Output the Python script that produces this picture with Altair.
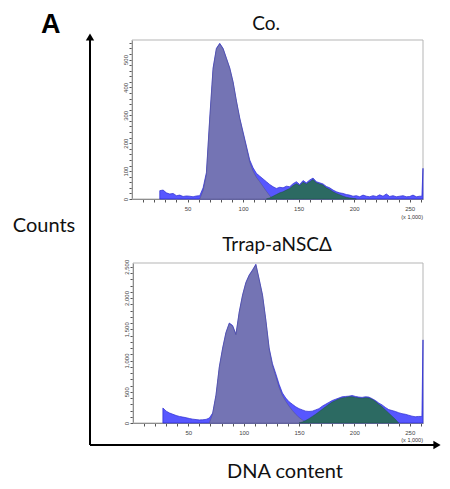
import altair as alt
import pandas as pd

# ---------------- Co. panel (DNA content x 1,000 vs counts) ----------------
co_x = [25, 28, 31, 34, 37, 40, 43, 46, 49, 52, 55, 58, 61, 64, 67, 70, 73, 76, 79, 82,
        85, 88, 91, 94, 97, 100, 103, 106, 109, 112, 115, 118, 121, 124, 127, 130, 133, 136, 139, 142,
        145, 148, 151, 154, 157, 160, 163, 166, 169, 172, 175, 178, 181, 184, 187, 190, 193, 196, 199, 202,
        205, 208, 211, 214, 217, 220, 223, 226, 229, 232, 235, 238, 241, 244, 247, 250, 253, 256, 259, 261, 262]
co_total = [30, 32, 22, 18, 20, 12, 14, 9, 11, 10, 8, 11, 12, 40, 95, 290, 470, 540, 558, 540,
            505, 470, 420, 352, 290, 240, 190, 140, 112, 92, 82, 72, 62, 52, 44, 38, 42, 40, 46, 44,
            55, 62, 52, 66, 58, 68, 75, 62, 58, 54, 45, 40, 32, 26, 22, 20, 16, 14, 10, 12,
            8, 14, 10, 8, 12, 9, 15, 10, 18, 9, 12, 8, 10, 12, 8, 9, 14, 8, 10, 10, 110]
co_g1_x = [61, 64, 67, 70, 73, 76, 79, 82, 85, 88, 91, 94, 97, 100, 103, 106, 109, 112, 115, 118, 121, 124, 127]
co_g1 = [0, 30, 88, 285, 465, 538, 556, 538, 503, 468, 418, 350, 288, 236, 185, 132, 100, 78, 62, 45, 28, 12, 0]
co_g2_x = [121, 124, 127, 130, 133, 136, 139, 142, 145, 148, 151, 154, 157, 160, 163, 166, 169, 172, 175, 178,
           181, 184, 187, 190, 193, 196, 199, 202]
co_g2 = [0, 4, 10, 16, 22, 26, 32, 38, 48, 55, 48, 60, 54, 62, 70, 58, 54, 50, 40, 34,
         26, 20, 15, 10, 6, 4, 2, 0]

# ---------------- Trrap-aNSCΔ panel ----------------
tr_x = [27, 30, 33, 36, 39, 42, 45, 48, 51, 54, 57, 60, 63, 66, 69, 72, 75, 78, 81, 84,
        87, 90, 93, 96, 99, 102, 105, 108, 111, 114, 117, 120, 123, 126, 129, 132, 135, 138, 141, 144,
        147, 150, 153, 156, 159, 162, 165, 168, 171, 174, 177, 180, 183, 186, 189, 192, 195, 198, 201, 204,
        207, 210, 213, 216, 219, 222, 225, 228, 231, 234, 237, 240, 243, 246, 249, 252, 255, 258, 261, 262]
tr_total = [240, 190, 160, 140, 120, 105, 95, 85, 72, 62, 55, 50, 52, 58, 80, 160, 450, 900, 1200, 1450,
            1600, 1560, 1420, 1780, 2050, 2250, 2370, 2450, 2540, 2300, 2050, 1650, 1200, 950, 790, 620, 480, 400, 340, 300,
            260, 230, 210, 190, 185, 190, 210, 230, 270, 300, 330, 360, 380, 400, 420, 425, 430, 440, 425, 415,
            410, 420, 415, 390, 360, 320, 290, 250, 215, 200, 185, 165, 150, 140, 125, 110, 100, 105, 105, 1330]
tr_g1_x = [69, 72, 75, 78, 81, 84, 87, 90, 93, 96, 99, 102, 105, 108, 111, 114, 117, 120, 123, 126,
           129, 132, 135, 138, 141, 144, 147, 150, 153, 156, 159]
tr_g1 = [0, 150, 440, 890, 1190, 1440, 1590, 1550, 1410, 1770, 2040, 2240, 2360, 2440, 2530, 2290, 2040, 1640, 1180, 920,
         750, 570, 440, 350, 270, 200, 140, 90, 50, 20, 0]
tr_g2_x = [150, 153, 156, 159, 162, 165, 168, 171, 174, 177, 180, 183, 186, 189, 192, 195, 198, 201, 204, 207,
           210, 213, 216, 219, 222, 225, 228, 231, 234, 237, 240]
tr_g2 = [0, 15, 40, 70, 105, 140, 180, 220, 260, 300, 335, 360, 385, 400, 410, 420, 420, 410, 400, 395,
         405, 400, 380, 345, 300, 260, 210, 160, 110, 60, 0]

x_ticks = [10, 20, 30, 40, 50, 60, 70, 80, 90, 100, 110, 120, 130, 140, 150, 160, 170, 180, 190, 200,
           210, 220, 230, 240, 250, 260]
co_y_ticks = [0, 20, 40, 60, 80, 100, 120, 140, 160, 180, 200, 220, 240, 260, 280, 300, 320, 340, 360, 380,
              400, 420, 440, 460, 480, 500, 520, 540, 560]
tr_y_ticks = [0, 100, 200, 300, 400, 500, 600, 700, 800, 900, 1000, 1100, 1200, 1300, 1400, 1500, 1600, 1700,
              1800, 1900, 2000, 2100, 2200, 2300, 2400, 2500]

BLUE = "#5757ff"
BLUE_EDGE = "#2a2ad0"
PURPLE = "#7474b4"
PURPLE_EDGE = "#50508a"
GREEN = "#2c6a62"
GREEN_EDGE = "#1f4f48"
TICKFONT = "Liberation Sans"
FONT = "Lato"

W, H = 434, 473


def panel(tx, ty, g1x, g1y, g2x, g2y, ymax, xrange, yrange, yticks, ylabmod, yfmt, xoff, yoff):
    xs = alt.Scale(domain=[0, 262], range=xrange, nice=False, zero=False)
    ys = alt.Scale(domain=[0, ymax], range=yrange, nice=False)
    xaxis = alt.Axis(orient="bottom", offset=xoff, values=x_ticks, tickCount=200, format="d",
                     labelExpr="datum.value % 50 == 0 ? datum.label : ''",
                     tickSize=3, tickColor="#555", domainColor="#666", domainWidth=1,
                     labelFontSize=6, labelColor="#444", labelFont=TICKFONT, labelPadding=3,
                     labelOverlap=False, labelFlush=False, grid=False, title="")
    yaxis = alt.Axis(orient="left", offset=yoff, values=yticks, tickCount=200, format=yfmt,
                     labelExpr="datum.value % " + str(ylabmod) + " == 0 ? datum.label : ''",
                     labelAngle=270, labelAlign="center", labelBaseline="bottom",
                     tickSize=3, tickColor="#555", domainColor="#666", domainWidth=1,
                     labelFontSize=6, labelColor="#444", labelFont=TICKFONT, labelPadding=1,
                     labelOverlap=False, labelFlush=False, grid=False, title="")

    tot = pd.DataFrame({"x": tx, "y": ty})
    g1 = pd.DataFrame({"x": g1x, "y": g1y})
    g2 = pd.DataFrame({"x": g2x, "y": g2y})
    frame = pd.DataFrame({"x0": [0], "x1": [262], "y0": [0], "y1": [ymax]})

    fr = alt.Chart(frame).mark_rect(fillOpacity=0, stroke="#b5b5b5", strokeWidth=1).encode(
        x=alt.X("x0:Q", scale=xs, axis=xaxis),
        x2="x1:Q",
        y=alt.Y("y0:Q", scale=ys, axis=yaxis),
        y2="y1:Q",
    )
    a_tot = alt.Chart(tot).mark_area(color=BLUE, stroke=BLUE_EDGE, strokeWidth=0.7, interpolate="linear").encode(
        x=alt.X("x:Q", scale=xs), y=alt.Y("y:Q", scale=ys))
    a_g1 = alt.Chart(g1).mark_area(color=PURPLE, stroke=PURPLE_EDGE, strokeWidth=0.5, interpolate="linear").encode(
        x=alt.X("x:Q", scale=xs), y=alt.Y("y:Q", scale=ys))
    a_g2 = alt.Chart(g2).mark_area(color=GREEN, stroke=GREEN_EDGE, strokeWidth=0.5, interpolate="linear").encode(
        x=alt.X("x:Q", scale=xs), y=alt.Y("y:Q", scale=ys))
    return alt.layer(fr, a_tot, a_g1, a_g2)


top = panel(co_x, co_total, co_g1_x, co_g1, co_g2_x, co_g2, 570, [124, 415], [191, 32],
            co_y_ticks, 100, "d", 191 - H, -124)
bottom = panel(tr_x, tr_total, tr_g1_x, tr_g1, tr_g2_x, tr_g2, 2560, [125, 415], [415, 255],
               tr_y_ticks, 500, ",d", 415 - H, -125)

one = pd.DataFrame({"k": [0]})


def label(text, x, y, size, font=FONT, weight="normal", align="center", color="#111"):
    return alt.Chart(one).mark_text(text=text, font=font, fontSize=size, fontWeight=weight,
                                    align=align, baseline="alphabetic", color=color).encode(
        x=alt.value(x), y=alt.value(y))


texts = [
    label("A", 33, 25, 27, font="Liberation Sans", weight="bold", align="left", color="#000"),
    label("Co.", 258, 22, 19),
    label("Trrap-aNSCΔ", 269, 243, 19),
    label("Counts", 36, 224, 20),
    label("DNA content", 277, 470, 20),
    label("(x 1,000)", 415, 211, 5.5, font=TICKFONT, align="right", color="#333"),
    label("(x 1,000)", 415, 434, 5.5, font=TICKFONT, align="right", color="#333"),
]

arrows = [
    alt.Chart(one).mark_rule(color="#000", strokeWidth=2).encode(
        x=alt.value(82), y=alt.value(30), y2=alt.value(437)),
    alt.Chart(one).mark_rule(color="#000", strokeWidth=2).encode(
        x=alt.value(82), x2=alt.value(427), y=alt.value(437)),
    alt.Chart(one).mark_point(shape="triangle-up", filled=True, color="#000", opacity=1, size=70).encode(
        x=alt.value(82), y=alt.value(29)),
    alt.Chart(one).mark_point(shape="triangle-right", filled=True, color="#000", opacity=1, size=70).encode(
        x=alt.value(429), y=alt.value(437)),
]

chart = alt.layer(top, bottom, *arrows, *texts).resolve_scale(
    x="independent", y="independent"
).properties(
    width=W, height=H, padding=0, autosize="none"
).configure_view(stroke=None).configure_axis(labelOverlap=False)

chart.save("out.html", embed_options={"renderer": "svg", "actions": False})
